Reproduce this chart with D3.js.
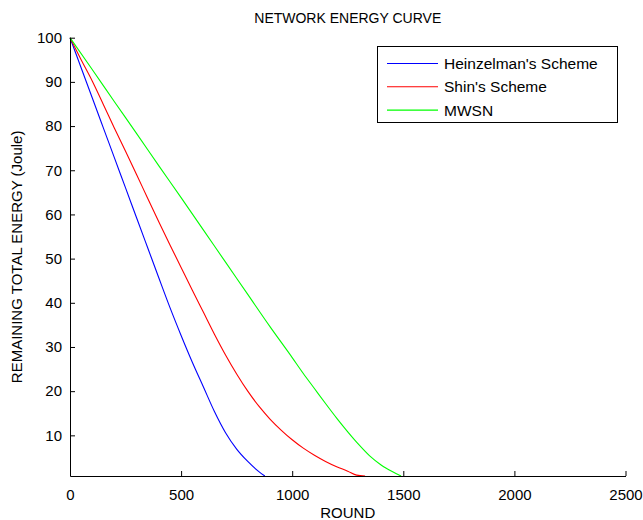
<!DOCTYPE html>
<html>
<head>
<meta charset="utf-8">
<script src="https://cdn.jsdelivr.net/npm/d3@7"></script>
<style>
  html, body { margin: 0; padding: 0; background: #fff; }
  svg { display: block; font-family: "Liberation Sans", Arial, Helvetica, sans-serif; }
</style>
</head>
<body>
<svg id="chart" width="643" height="520"></svg>
<script>
// Remaining total energy (Joule) against simulation round for three schemes
const heinzelmanRounds = [0, 50, 100, 150, 200, 250, 300, 350, 400, 450, 500, 550, 600, 650, 700, 750, 800, 850, 877];
const heinzelmanEnergy = [100, 93.2, 86.4, 79.6, 72.8, 66.0, 59.2, 52.4, 45.6, 38.9, 32.6, 26.6, 21.0, 15.4, 10.6, 6.9, 4.1, 1.8, 0.8];

const shinRounds = [0, 50, 100, 150, 200, 250, 300, 350, 400, 450, 500, 550, 600, 650, 700, 750, 800, 850, 900, 950, 1000, 1050, 1100, 1150, 1200, 1250, 1290, 1328];
const shinEnergy = [100, 95.0, 90.2, 84.9, 79.5, 74.3, 69.0, 63.6, 58.3, 53.1, 48.0, 42.9, 37.9, 32.9, 28.2, 23.9, 20.0, 16.6, 13.7, 11.2, 9.0, 7.1, 5.5, 4.1, 2.9, 1.9, 1.0, 0.8];

const mwsnRounds = [0, 100, 200, 300, 400, 500, 600, 700, 800, 900, 1000, 1050, 1100, 1150, 1200, 1250, 1300, 1350, 1400, 1450, 1490];
const mwsnEnergy = [100, 92.8, 85.5, 78.3, 71.0, 63.8, 56.5, 49.2, 41.9, 34.6, 27.6, 24.0, 20.6, 17.2, 13.9, 10.8, 7.9, 5.3, 3.3, 1.8, 0.8];

const seriesNames = ["Heinzelman's Scheme", "Shin's Scheme", "MWSN"];
const seriesColors = ["#0000ff", "#ff0000", "#00ff00"];

const xTicks = [0, 500, 1000, 1500, 2000, 2500];
const yTicks = [10, 20, 30, 40, 50, 60, 70, 80, 90, 100];

const titleText = "NETWORK ENERGY CURVE";
const xLabel = "ROUND";
const yLabel = "REMAINING TOTAL ENERGY (Joule)";

const series = [
  { name: seriesNames[0], color: seriesColors[0], pts: heinzelmanRounds.map((r, i) => [r, heinzelmanEnergy[i]]) },
  { name: seriesNames[1], color: seriesColors[1], pts: shinRounds.map((r, i) => [r, shinEnergy[i]]) },
  { name: seriesNames[2], color: seriesColors[2], pts: mwsnRounds.map((r, i) => [r, mwsnEnergy[i]]) }
];

const svg = d3.select("#chart");
const plot = { left: 70, right: 625.5, top: 37.7, bottom: 476 };

const x = d3.scaleLinear().domain([0, 2500]).range([plot.left, plot.right]);
const y = d3.scaleLinear().domain([0.8, 100]).range([plot.bottom, plot.top]);

// curves
const line = d3.line()
  .x(d => x(d[0]))
  .y(d => y(d[1]))
  .curve(d3.curveMonotoneX);

svg.append("g").selectAll("path")
  .data(series)
  .join("path")
  .attr("d", d => line(d.pts))
  .attr("fill", "none")
  .attr("stroke", d => d.color)
  .attr("stroke-width", 1.1);

// axes with inward ticks
const fmt = d3.format("d");
const xAxis = svg.append("g")
  .attr("transform", `translate(0,${plot.bottom})`)
  .call(d3.axisBottom(x).tickValues(xTicks).tickFormat(fmt).tickSizeInner(-5).tickSizeOuter(0).tickPadding(13));
const yAxis = svg.append("g")
  .attr("transform", `translate(${plot.left},0)`)
  .call(d3.axisLeft(y).tickValues(yTicks).tickFormat(fmt).tickSizeInner(-5).tickSizeOuter(0).tickPadding(8));

[xAxis, yAxis].forEach(g => {
  g.select(".domain").attr("stroke", "#000").attr("stroke-width", 1);
  g.selectAll(".tick line").attr("stroke", "#000");
  g.selectAll(".tick text")
    .attr("fill", "#000")
    .style("font-family", "\"Liberation Sans\", Arial, sans-serif")
    .style("font-size", "15px");
});

// title and axis labels
svg.append("text")
  .attr("x", (plot.left + plot.right) / 2)
  .attr("y", 23)
  .attr("text-anchor", "middle")
  .style("font-size", "14px")
  .text(titleText);

svg.append("text")
  .attr("x", (plot.left + plot.right) / 2)
  .attr("y", 518)
  .attr("text-anchor", "middle")
  .style("font-size", "15px")
  .text(xLabel);

svg.append("text")
  .attr("transform", `translate(22,${(plot.top + plot.bottom) / 2}) rotate(-90)`)
  .attr("text-anchor", "middle")
  .style("font-size", "15px")
  .text(yLabel);

// legend
const legend = svg.append("g");
legend.append("rect")
  .attr("x", 377.5).attr("y", 46.5)
  .attr("width", 240).attr("height", 76)
  .attr("fill", "#fff").attr("stroke", "#000").attr("stroke-width", 1);

const rows = legend.selectAll("g.row")
  .data(series)
  .join("g")
  .attr("class", "row")
  .attr("transform", (d, i) => `translate(0,${63.5 + i * 23.3})`);
rows.append("line")
  .attr("x1", 387).attr("x2", 438)
  .attr("stroke", d => d.color).attr("stroke-width", 1.1);
rows.append("text")
  .attr("x", 444).attr("dy", "0.36em")
  .style("font-size", "15.5px")
  .text(d => d.name);
</script>
</body>
</html>
